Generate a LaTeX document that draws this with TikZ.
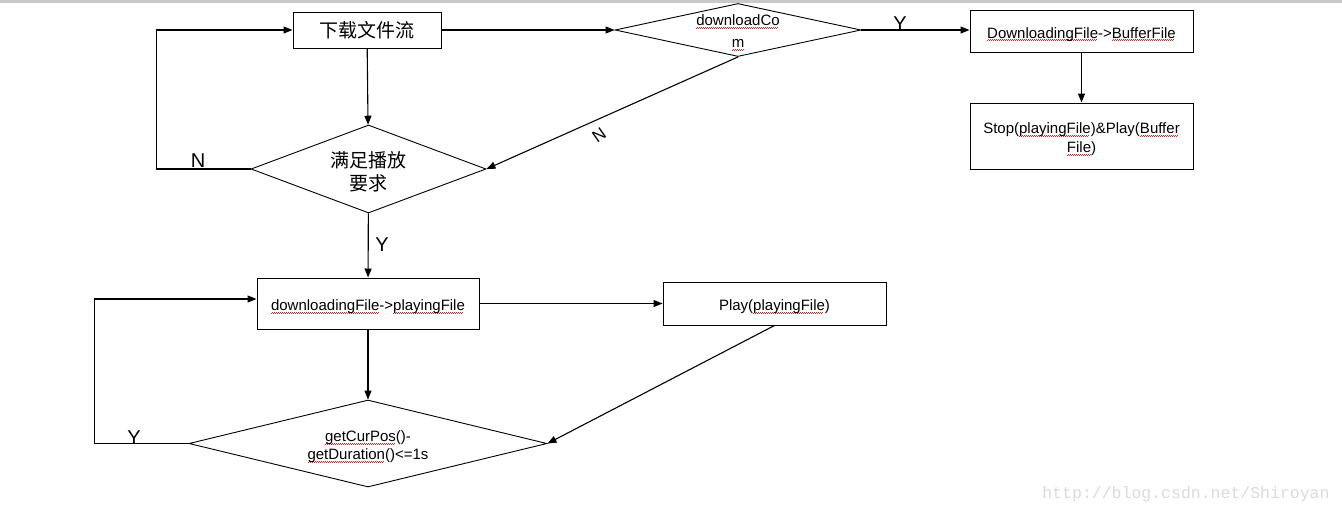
\documentclass[tikz,border=0pt]{standalone}
\usepackage{fontspec}
\setmainfont{Liberation Sans}
\newfontfamily\cjk{Noto Sans CJK SC}
\newfontfamily\markfont{Liberation Mono}
\usepackage{tikz}
\usetikzlibrary{arrows.meta,shapes.geometric}
\definecolor{SpellRed}{HTML}{E02424}
\definecolor{MarkGray}{HTML}{DADADA}
\definecolor{BarGray}{HTML}{C8C8C8}
\newcommand{\spell}[1]{\setbox0=\hbox{#1}\rlap{\lower3pt\hbox to\wd0{\color{SpellRed}%
  \leaders\hbox{\vrule width1pt height.6pt depth0pt\vrule width1pt height1.6pt depth-1pt}\hfil}}\box0}

\tikzset{
  txt/.style={font=\fontsize{15}{19}\selectfont},
  procbox/.style={draw,line width=1pt,txt,inner sep=0pt,align=center},
  lowtxt/.style={text height=17pt,text depth=3pt},
  decision/.style={diamond,draw,line width=.9pt,inner sep=0pt},
  dtxt/.style={txt,align=center,inner sep=0pt,yshift=-3pt},
  flow/.style={line width=1.1pt,-{Triangle[length=9pt,width=7pt]}},
  yn/.style={font=\fontsize{20}{20}\selectfont,inner sep=0pt},
}

\begin{document}
\begin{tikzpicture}[x=1pt,y=-1pt]
  \useasboundingbox (0,0) rectangle (1342,515);
  \fill[BarGray] (0,0) rectangle (1342,2.5);

  % download branch
  \node[procbox,minimum width=148pt,minimum height=36pt,font=\cjk\fontsize{19}{23}\selectfont] (stream) at (367,30) {下载文件流};
  \node[decision,minimum width=246pt,minimum height=53pt,
        label={[dtxt,font=\fontsize{15}{22}\selectfont]center:{\spell{downloadCo}\\\spell{m}}}] (done) at (738,30) {};
  \node[procbox,lowtxt,minimum width=223pt,minimum height=42pt] (tobuffer) at (1081.5,31) {\spell{DownloadingFile}->\spell{BufferFile}};
  \node[procbox,minimum width=223pt,minimum height=66pt,
        label={[dtxt,font=\fontsize{15}{19.5}\selectfont]center:{Stop(\spell{playingFile})\&Play(\spell{Buffer}\\\spell{File})}}] (switch) at (1081.5,136) {};

  % play branch
  \node[decision,minimum width=235pt,minimum height=88pt,
        label={[dtxt,font=\cjk\fontsize{19}{23}\selectfont]center:{满足播放\\要求}}] (ready) at (368.5,169) {};
  \node[procbox,lowtxt,minimum width=222pt,minimum height=51pt] (toplay) at (368,303.5) {\spell{downloadingFile}->\spell{playingFile}};
  \node[procbox,lowtxt,minimum width=223pt,minimum height=43pt] (play) at (774.5,303.5) {Play(\spell{playingFile})};
  \node[decision,minimum width=358pt,minimum height=87pt,
        label={[dtxt,font=\fontsize{15}{18.5}\selectfont]center:{\spell{getCurPos}()-\\\spell{getDuration}()<=1s}}] (near) at (368,443.5) {};

  \draw[flow] (stream) -- (done);
  \draw[flow] (done.east) -- (done.east -| tobuffer.west);
  \node[yn] (y1) at (900,24) {Y};
  \draw[flow] (tobuffer) -- (switch);

  \draw[flow] (stream) -- (ready);
  \draw[flow] (ready.west) -- ++(-94,0) |- (stream.west);
  \node[yn] (n1) at (198,161) {N};
  \draw[flow] (done.south) -- (ready.east);
  \node[yn,font=\fontsize{17}{17}\selectfont,rotate=35] (n2) at (599,135) {N};

  \draw[flow] (ready) -- (toplay);
  \node[yn] (y2) at (382,245) {Y};
  \draw[flow] (toplay.east |- play.west) -- (play.west);
  \draw[flow] (toplay) -- (near);
  \draw[flow] (play.south) -- (near.east);
  \draw[flow] (near.west) -- ++(-94,0) |- ([yshift=4.5pt]toplay.west);
  \node[yn] (y3) at (134,438) {Y};

  \node[text=MarkGray,font=\markfont\fontsize{16.5}{16.5}\selectfont] (mark) at (1186,494) {http://blog.csdn.net/Shiroyan};
\end{tikzpicture}
\end{document}
